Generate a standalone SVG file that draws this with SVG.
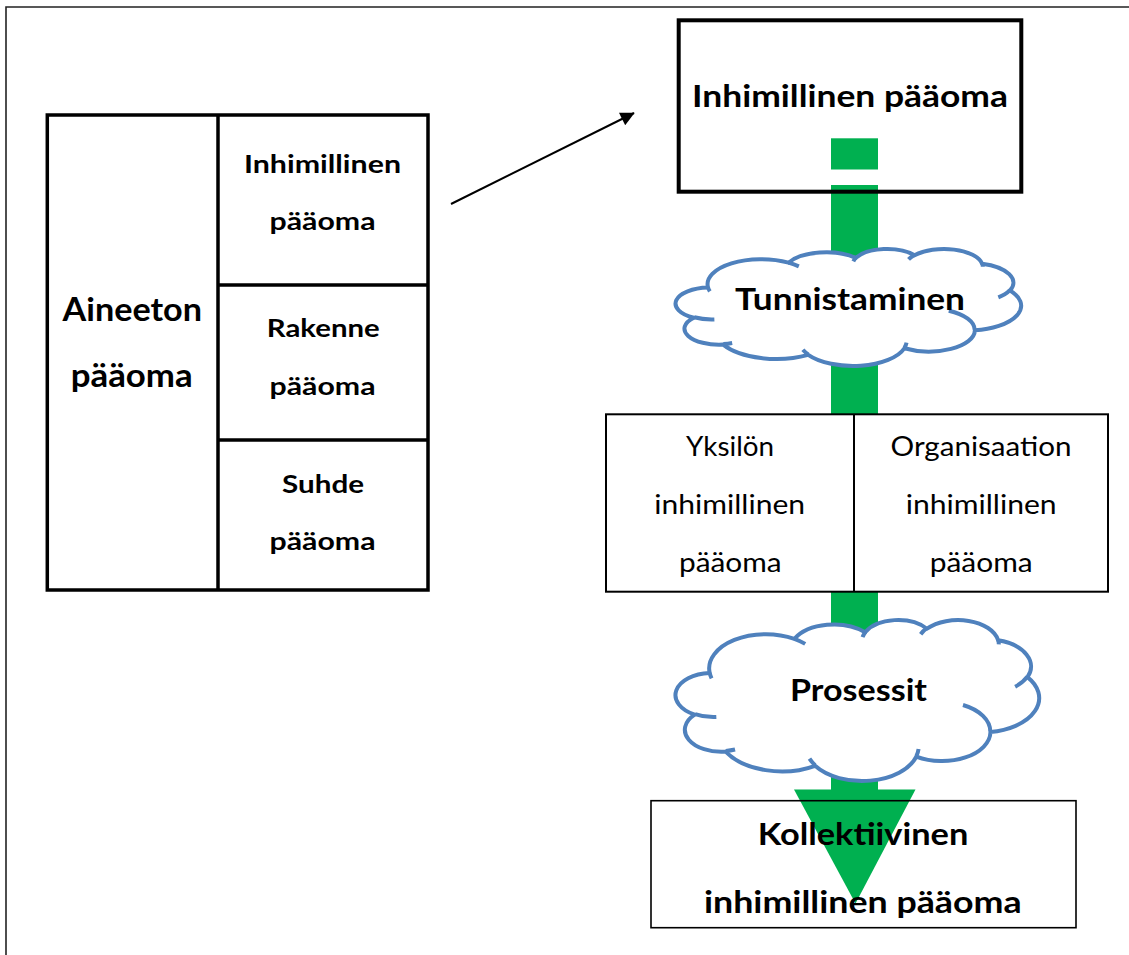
<svg xmlns="http://www.w3.org/2000/svg" width="1129" height="955" viewBox="0 0 1129 955">
<defs>
<style>
.b{font-family:Lato,"Liberation Sans",sans-serif;font-weight:bold;fill:#000;text-anchor:middle}
.r{font-family:Lato,"Liberation Sans",sans-serif;font-weight:normal;fill:#000;text-anchor:middle}
.cloud{fill:#fff;stroke:#4F81BD;stroke-width:4;stroke-linejoin:round}
.crease{fill:none;stroke:#4F81BD;stroke-width:4}
.green{fill:#00B050}
</style>
<marker id="ah" viewBox="0 0 10 10" refX="9.5" refY="5" markerUnits="userSpaceOnUse" markerWidth="18" markerHeight="14" orient="auto">
<path d="M0,0 L10,5 L0,10 Z" fill="#000"/>
</marker>
</defs>
<rect width="1129" height="955" fill="#fff"/>
<g id="frame">
<path d="M6,955 V7 H1129" fill="none" stroke="#222" stroke-width="1.6"/>
</g>
<g id="connectors">
<line x1="451" y1="204" x2="634" y2="113" stroke="#000" stroke-width="2" marker-end="url(#ah)"/>
<rect class="green" x="831" y="138.3" width="47" height="31.2"/>
<rect class="green" x="831" y="185" width="47" height="605"/>
<polygon class="green" points="794,789.5 915.5,789.5 855.5,903.5"/>
</g>
<g id="table-aineeton">
<rect x="47.3" y="115" width="380.7" height="475" fill="#fff" stroke="#000" stroke-width="3.5"/>
<line x1="218" y1="115" x2="218" y2="590" stroke="#000" stroke-width="3.5"/>
<line x1="218" y1="285" x2="428" y2="285" stroke="#000" stroke-width="3.5"/>
<line x1="218" y1="440" x2="428" y2="440" stroke="#000" stroke-width="3.5"/>
<text class="b" x="132.3" y="320.7" font-size="31.5" textLength="139.5" lengthAdjust="spacingAndGlyphs">Aineeton</text>
<text class="b" x="131.7" y="387" font-size="31.5" textLength="122" lengthAdjust="spacingAndGlyphs">pääoma</text>
<text class="b" x="322.5" y="172.7" font-size="25.5" textLength="157" lengthAdjust="spacingAndGlyphs">Inhimillinen</text>
<text class="b" x="322.5" y="230" font-size="25.5" textLength="106" lengthAdjust="spacingAndGlyphs">pääoma</text>
<text class="b" x="323.3" y="337.3" font-size="25.5" textLength="113" lengthAdjust="spacingAndGlyphs">Rakenne</text>
<text class="b" x="322.5" y="395" font-size="25.5" textLength="106" lengthAdjust="spacingAndGlyphs">pääoma</text>
<text class="b" x="323" y="492.5" font-size="25.5" textLength="82" lengthAdjust="spacingAndGlyphs">Suhde</text>
<text class="b" x="322.5" y="550" font-size="25.5" textLength="106" lengthAdjust="spacingAndGlyphs">pääoma</text>
</g>
<g id="node-inhimillinen">
<rect x="678.7" y="20.3" width="342.6" height="171.4" fill="none" stroke="#000" stroke-width="4"/>
<text class="b" x="850" y="107" font-size="31" textLength="316" lengthAdjust="spacingAndGlyphs">Inhimillinen pääoma</text>
</g>
<g id="cloud-tunnistaminen">
<g transform="translate(677,248.6) scale(0.7963,0.2707)">
<path class="cloud" vector-effect="non-scaling-stroke" d="M39,143.7 A67.53,91.9 0 0 1 140.06,52.02 A53.33,72.67 0 0 1 224.57,34.32 A43.65,59.45 0 0 1 298.34,24.81 A48.57,65.95 0 0 1 383.19,55.76 A53.33,72.73 0 0 1 418.19,154.6 A67.75,92.2 0 0 1 374.05,302.03 A57.85,78.67 0 0 1 285.55,368.13 A67.52,92.15 0 0 1 164.8,392.63 A77.2,105.43 0 0 1 58.04,354.69 A43.6,59.18 0 0 1 21.13,255.47 A43.45,59.45 0 0 1 39,143.7 Z"/>
<path class="crease" vector-effect="non-scaling-stroke" d="M46.93,261.77 A43.45,59.45 0 0 1 21.6,253.8 M69.28,348.99 A43.6,59.18 0 0 1 58.19,352.81 M164.78,390.9 A67.52,92.15 0 0 1 158.1,373.5 M288.27,347.51 A67.52,92.15 0 0 1 285.6,366.6 M341.29,229.54 A57.85,78.67 0 0 1 373.81,300.9 M417.98,153.54 A53.33,72.73 0 0 1 403.5,180.3 M383.24,54.26 A48.57,65.95 0 0 1 384,66.9 M290.78,39.52 A48.57,65.95 0 0 1 298.2,23.41 M221.41,47.2 A43.65,59.45 0 0 1 225,33.3 M140,51.92 A67.53,91.9 0 0 1 153,65.4 M41.27,157.89 A67.53,91.9 0 0 1 39,143.7"/>
</g>
<text class="b" x="850" y="310" font-size="31" textLength="230" lengthAdjust="spacingAndGlyphs">Tunnistaminen</text>
</g>
<g id="node-yksilo-organisaatio">
<rect x="606" y="414.3" width="502" height="177.4" fill="#fff" stroke="#000" stroke-width="2"/>
<line x1="854" y1="414.3" x2="854" y2="591.7" stroke="#000" stroke-width="2"/>
<text class="r" x="730" y="456" font-size="27" textLength="88" lengthAdjust="spacingAndGlyphs">Yksilön</text>
<text class="r" x="729.7" y="514" font-size="27" textLength="150.7" lengthAdjust="spacingAndGlyphs">inhimillinen</text>
<text class="r" x="730.3" y="571.7" font-size="27" textLength="102.7" lengthAdjust="spacingAndGlyphs">pääoma</text>
<text class="r" x="981" y="456" font-size="27" textLength="181" lengthAdjust="spacingAndGlyphs">Organisaation</text>
<text class="r" x="981.2" y="514" font-size="27" textLength="151" lengthAdjust="spacingAndGlyphs">inhimillinen</text>
<text class="r" x="981.2" y="571.7" font-size="27" textLength="103" lengthAdjust="spacingAndGlyphs">pääoma</text>
</g>
<g id="cloud-prosessit">
<g transform="translate(677,619.5) scale(0.838,0.3725)">
<path class="cloud" vector-effect="non-scaling-stroke" d="M39,143.7 A67.53,91.9 0 0 1 140.06,52.02 A53.33,72.67 0 0 1 224.57,34.32 A43.65,59.45 0 0 1 298.34,24.81 A48.57,65.95 0 0 1 383.19,55.76 A53.33,72.73 0 0 1 418.19,154.6 A67.75,92.2 0 0 1 374.05,302.03 A57.85,78.67 0 0 1 285.55,368.13 A67.52,92.15 0 0 1 164.8,392.63 A77.2,105.43 0 0 1 58.04,354.69 A43.6,59.18 0 0 1 21.13,255.47 A43.45,59.45 0 0 1 39,143.7 Z"/>
<path class="crease" vector-effect="non-scaling-stroke" d="M46.93,261.77 A43.45,59.45 0 0 1 21.6,253.8 M69.28,348.99 A43.6,59.18 0 0 1 58.19,352.81 M164.78,390.9 A67.52,92.15 0 0 1 158.1,373.5 M288.27,347.51 A67.52,92.15 0 0 1 285.6,366.6 M341.29,229.54 A57.85,78.67 0 0 1 373.81,300.9 M417.98,153.54 A53.33,72.73 0 0 1 403.5,180.3 M383.24,54.26 A48.57,65.95 0 0 1 384,66.9 M290.78,39.52 A48.57,65.95 0 0 1 298.2,23.41 M221.41,47.2 A43.65,59.45 0 0 1 225,33.3 M140,51.92 A67.53,91.9 0 0 1 153,65.4 M41.27,157.89 A67.53,91.9 0 0 1 39,143.7"/>
</g>
<text class="b" x="858.5" y="701" font-size="31" textLength="137" lengthAdjust="spacingAndGlyphs">Prosessit</text>
</g>
<g id="node-kollektiivinen">
<rect x="651" y="800.7" width="425" height="127" fill="none" stroke="#000" stroke-width="1.6"/>
<text class="b" x="863" y="845" font-size="31" textLength="210.6" lengthAdjust="spacingAndGlyphs">Kollektiivinen</text>
<text class="b" x="862.8" y="913.3" font-size="31" textLength="317.7" lengthAdjust="spacingAndGlyphs">inhimillinen pääoma</text>
</g>
</svg>
